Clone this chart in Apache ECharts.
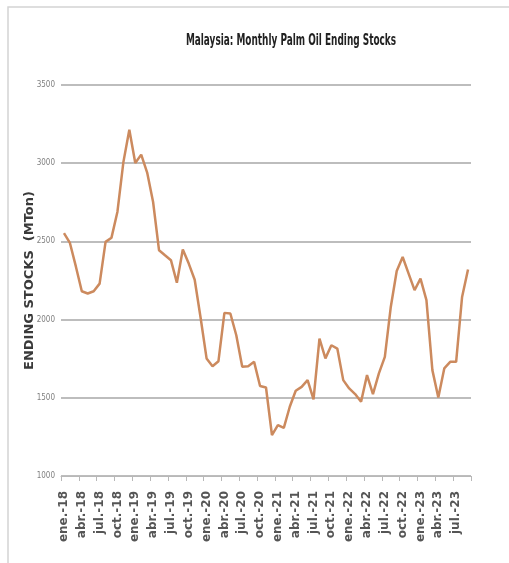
<!DOCTYPE html>
<html>
<head>
<meta charset="utf-8">
<script src="https://cdn.jsdelivr.net/npm/echarts@6/dist/echarts.min.js"></script>
<style>
  html, body { margin: 0; padding: 0; background: #ffffff; }
  #chart { width: 509px; height: 563px; }
</style>
</head>
<body>
<div id="chart"></div>
<script>
// Monthly month labels (Spanish abbreviations), Jan 2018 – Sep 2023
const monthNames = ['ene.', 'feb.', 'mar.', 'abr.', 'may.', 'jun.', 'jul.', 'ago.', 'sep.', 'oct.', 'nov.', 'dic.'];
const years = ['18', '19', '20', '21', '22', '23'];
const monthCount = 69;

// Ending stocks, thousand tonnes
const stocks2018 = [2553, 2490, 2340, 2181, 2167, 2181, 2230, 2497, 2524, 2690, 3007, 3214];
const stocks2019 = [3001, 3055, 2940, 2752, 2443, 2411, 2380, 2236, 2448, 2358, 2255, 2010];
const stocks2020 = [1752, 1702, 1734, 2043, 2039, 1900, 1698, 1702, 1730, 1575, 1566, 1262];
const stocks2021 = [1326, 1308, 1443, 1545, 1570, 1613, 1490, 1879, 1752, 1836, 1815, 1613];
const stocks2022 = [1560, 1524, 1475, 1645, 1524, 1656, 1762, 2081, 2311, 2400, 2294, 2188];
const stocks2023 = [2262, 2124, 1677, 1502, 1688, 1730, 1730, 2145, 2320];

const categories = [];
for (let i = 0; i < monthCount; i++) {
  categories.push(monthNames[i % 12] + '-' + years[Math.floor(i / 12)]);
}
const stocks = [].concat(stocks2018, stocks2019, stocks2020, stocks2021, stocks2022, stocks2023);

const chart = echarts.init(document.getElementById('chart'), null, { renderer: 'canvas' });
chart.setOption({
  backgroundColor: '#ffffff',
  animation: false,
  graphic: [
    {
      // outer frame (left and top edges visible)
      type: 'rect',
      shape: { x: 8, y: 7, width: 560, height: 600 },
      style: { fill: 'none', stroke: '#d4d4d4', lineWidth: 1.5 },
      silent: true
    },
    {
      // chart title, drawn condensed
      type: 'text',
      x: 291,
      y: 41,
      scaleX: 0.62,
      style: {
        text: 'Malaysia: Monthly Palm Oil Ending Stocks',
        fontFamily: '"DejaVu Sans Condensed", "DejaVu Sans", sans-serif',
        fontWeight: 'bold',
        fontSize: 16,
        fill: '#222222',
        align: 'center',
        verticalAlign: 'middle'
      },
      silent: true
    }
  ],
  grid: { left: 61, right: 38, top: 85, bottom: 87, containLabel: false },
  xAxis: {
    type: 'category',
    data: categories,
    boundaryGap: true,
    axisLine: { show: true, lineStyle: { color: '#b8b8b8', width: 1 } },
    axisTick: { show: true, interval: 2, length: 5, lineStyle: { color: '#b8b8b8' } },
    axisLabel: {
      interval: 2,
      rotate: 90,
      margin: 15,
      fontFamily: '"DejaVu Sans", sans-serif',
      fontWeight: 'bold',
      fontSize: 12,
      color: '#555555'
    },
    splitLine: { show: false }
  },
  yAxis: {
    type: 'value',
    min: 1000,
    max: 3500,
    interval: 500,
    name: 'ENDING STOCKS  (MTon)',
    nameLocation: 'middle',
    nameGap: 25,
    nameMoveOverlap: false,
    nameTextStyle: {
      fontFamily: '"DejaVu Sans", sans-serif',
      fontWeight: 'bold',
      fontSize: 13,
      color: '#3a3a3a'
    },
    axisLine: { show: false },
    axisTick: { show: false },
    axisLabel: {
      margin: 6,
      formatter: function (v) { return String(v); },
      fontFamily: '"DejaVu Sans Condensed", sans-serif',
      fontSize: 8,
      color: '#808080'
    },
    splitLine: { show: true, lineStyle: { color: '#bdbdbd', width: 2 } }
  },
  series: [{
    type: 'line',
    data: stocks,
    symbol: 'none',
    smooth: false,
    lineStyle: { color: '#cc8a5e', width: 2.5 },
    z: 3
  }]
});
</script>
</body>
</html>
